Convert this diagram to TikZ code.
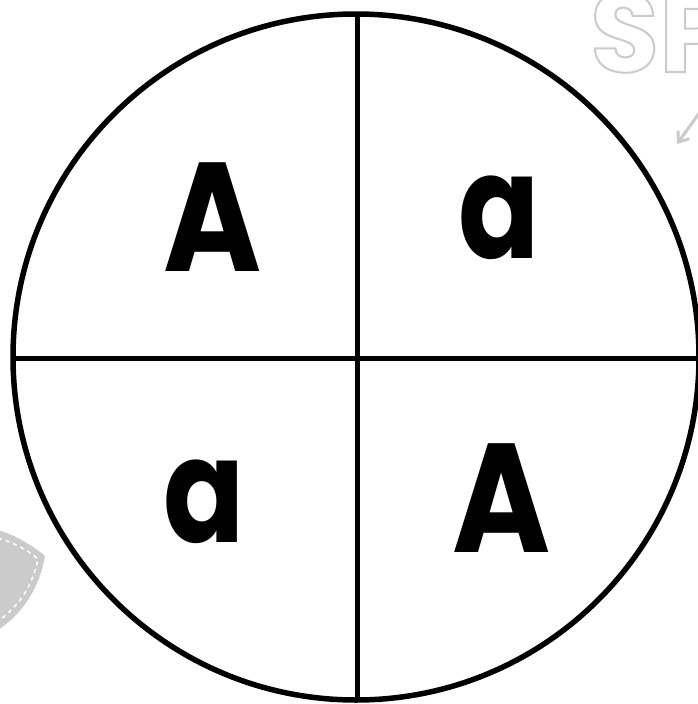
\documentclass[tikz,border=0pt]{standalone}
\usepackage{fontspec}
\usepackage{graphicx}
\setmainfont{Poppins}
\usetikzlibrary{arrows.meta}
\definecolor{deco}{HTML}{CBCBCB}
\tikzset{
  ring/.style={draw=black, line width=5.5pt},
  divider/.style={draw=black, line width=5pt},
  capletter/.style={inner sep=0pt, font=\fontsize{155}{155}\selectfont\bfseries},
  smallletter/.style={inner sep=0pt, font=\fontsize{146}{146}\selectfont\bfseries},
  decoarrow/.style={draw=deco, line width=3pt, -{Straight Barb[length=9pt,width=14pt]}},
}
\begin{document}
\begin{tikzpicture}[x=1pt,y=-1pt]
\useasboundingbox[fill=white] (0,0) rectangle (698,704);
% background decorations
\node[anchor=base west, inner sep=0pt, text=deco, font=\fontsize{112}{112}\selectfont\bfseries] (sp) at (590,72)
  {\special{pdf:literal direct 1 Tr 2 w}SP\special{pdf:literal direct 0 Tr}};
\coordinate (arrowstart) at (700,112);
\coordinate (arrowend) at (677,144);
\draw[decoarrow] (arrowstart) -- (arrowend);
\fill[deco] (-2,530) .. controls (15,535) and (32,545) .. (45,556)
  .. controls (40,585) and (25,612) .. (-2,630) -- cycle;
\draw[white, line width=1.5pt, dash pattern=on 4pt off 4pt] (-2,538) .. controls (14,543) and (28,550) .. (38,559)
  .. controls (33,584) and (20,606) .. (-2,621);
% circle and cross
\coordinate (c) at (356,357);
\draw[ring] (c) circle[radius=343];
\coordinate (top) at (357,14);
\coordinate (bottom) at (357,700);
\coordinate (left) at (13,358);
\coordinate (right) at (699,358);
\draw[divider] (top) -- (bottom);
\draw[divider] (left) -- (right);
% letters
\node[capletter] (tl) at (213,217) {\scalebox{0.86}[1]{A}};
\node[smallletter] (tr) at (499,218) {\scalebox{0.82}[1]{a}};
\node[smallletter] (bl) at (204,502) {\scalebox{0.82}[1]{a}};
\node[capletter] (br) at (502,498) {\scalebox{0.86}[1]{A}};
\end{tikzpicture}
\end{document}
